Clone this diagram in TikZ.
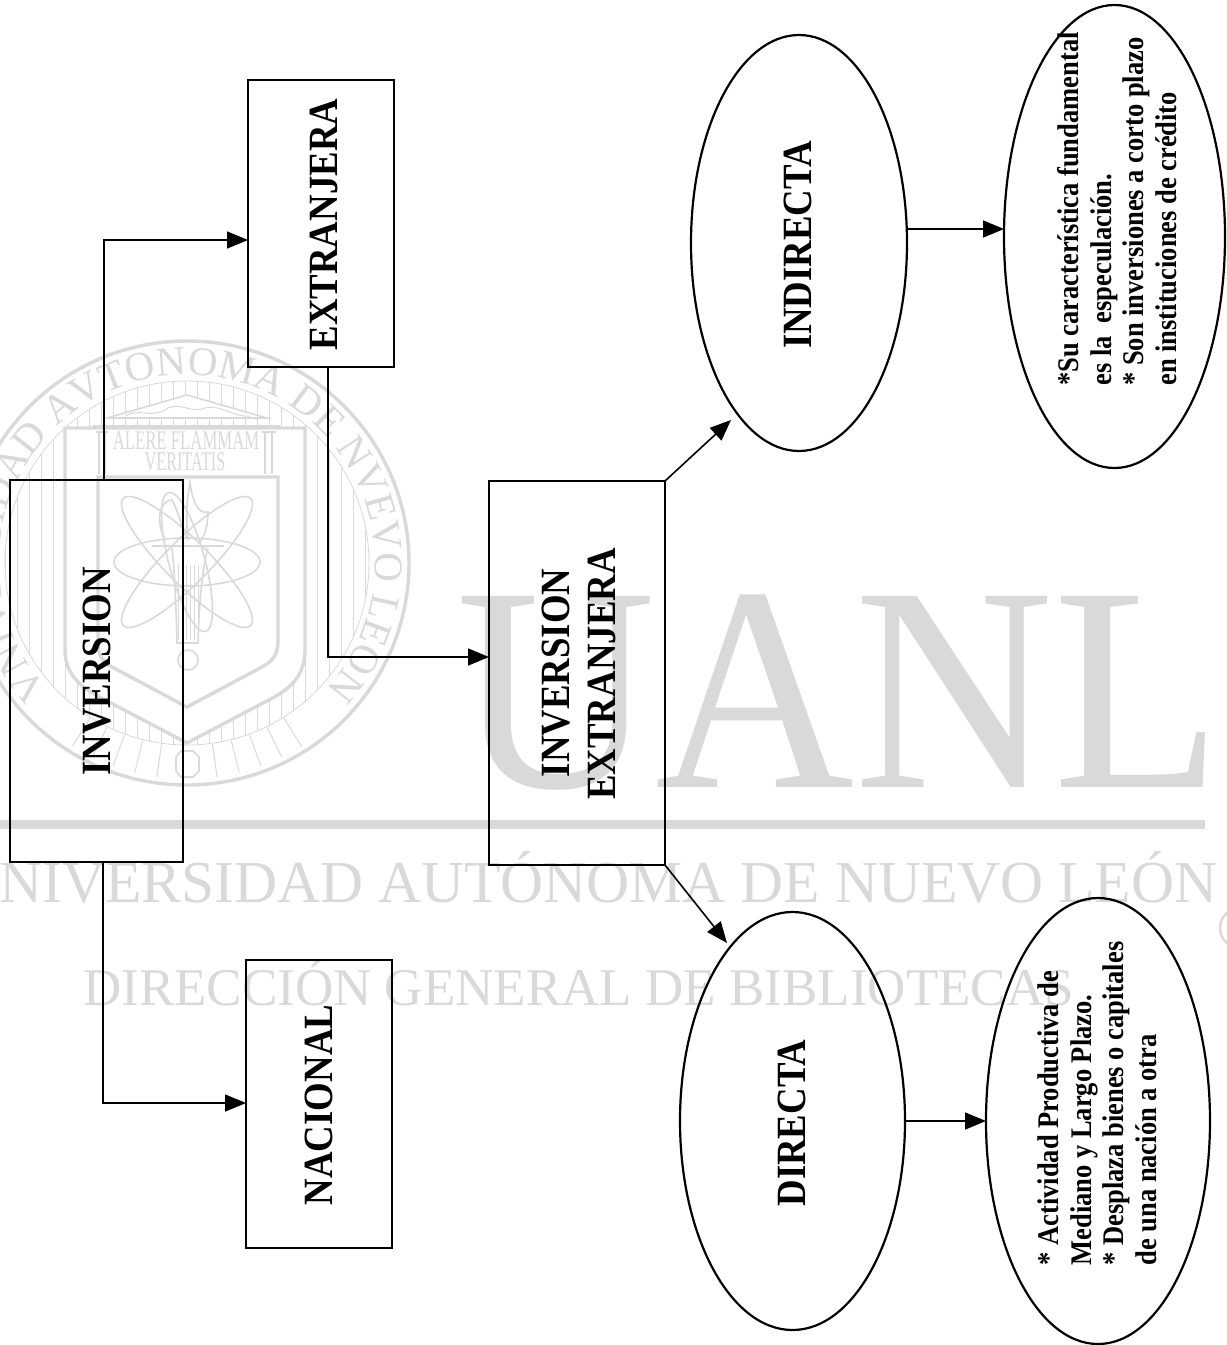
\documentclass[tikz,border=0pt]{standalone}
\usepackage{fontspec}
\usepackage{graphicx}
\setmainfont{Liberation Serif}
\usetikzlibrary{arrows.meta,shapes.geometric,decorations.text}
\definecolor{sello}{HTML}{D9D9D9}
\newcommand{\alto}[1]{\scalebox{1}[1.13]{#1}}
\tikzset{
  caja/.style={draw,line width=2pt,outer sep=0pt,inner sep=0pt},
  ovalo/.style={draw,ellipse,line width=2.2pt,outer sep=0pt,inner sep=0pt},
  etiqueta/.style={inner sep=0pt,rotate=90,font=\bfseries\fontsize{36.8}{44}\selectfont},
  nota/.style={inner sep=0pt,rotate=90,font=\bfseries\fontsize{26.5}{28.8}\selectfont},
  flecha/.style={line width=1.6pt,-{Triangle[length=21pt,width=17pt]}},
  marca/.style={inner sep=0pt,text=sello},
  trazo/.style={draw=sello,line width=1.6pt}
}
\begin{document}
\begin{tikzpicture}[x=1pt,y=1pt,yscale=-1,xscale=1]
\useasboundingbox (0,0) rectangle (1227,1345);

%Seal hatching
\foreach \xx in {5,17,...,370} {
  \draw[draw=sello,line width=0.8pt] (\xx,370) -- (\xx,750);
}
\fill[white,even odd rule] (187,563) circle [radius=182] (-60,300) rectangle (440,800);
\foreach \aa in {238,244,...,262,278,284,...,302} {
  \draw[draw=sello,line width=1pt] (187,563) ++(-\aa:183) -- ++(-\aa:33);
}
%Seal rings
\draw[draw=sello,line width=3.4pt] (187,563) circle [radius=222];
\draw[draw=sello,line width=0.8pt] (187,563) circle [radius=182];
\begin{scope}[shift={(187,563)},yscale=-1]
\path[decorate,decoration={text along path,text align=center,
  text={|\fontsize{41}{41}\selectfont\color{sello}|VNIVERSIDAD AVTONOMA DE NVEVO LEON}}]
  (235:188) arc [start angle=235,end angle=-55,radius=188];
\end{scope}
%Seal shield
\filldraw[trazo,line width=3.4pt,fill=white] (65,428) -- (305,428) -- (305,650) .. controls (305,680) and (285,692) .. (263,703) -- (187,743) -- (111,703) .. controls (89,692) and (65,680) .. (65,650) -- cycle;
\draw[trazo,line width=3.4pt] (98,477) -- (278,477) -- (278,640) .. controls (278,652) and (275,660) .. (262,667) -- (187,707) -- (112,667) .. controls (99,660) and (98,652) .. (98,640) -- cycle;
%Seal front
\filldraw[trazo,fill=white] (107,418) -- (187,395) -- (267,418) -- cycle;
\draw[trazo,line width=3pt] (93,426) -- (280,426);
\draw[trazo,line width=1pt] (125,416) .. controls (140,408) and (150,418) .. (165,410) .. controls (178,400) and (190,414) .. (205,408) .. controls (220,404) and (235,418) .. (250,416);
\draw[trazo] (96,432) -- (108,432) (99,432) -- (99,474) (105,432) -- (105,474);
\draw[trazo] (262,432) -- (276,432) (265,432) -- (265,474) (272,432) -- (272,474);
% Text Node
\node[marca] (lema) at (186,441) {\scalebox{0.62}[1]{\fontsize{27}{27}\selectfont ALERE FLAMMAM}};
% Text Node
\node[marca] (lemados) at (185,462) {\scalebox{0.6}[1]{\fontsize{27}{27}\selectfont VERITATIS}};
%Seal atom
\draw[trazo] (187,562) ellipse [x radius=73,y radius=24];
\draw[trazo,rotate around={45:(187,562)}] (187,562) ellipse [x radius=90,y radius=22];
\draw[trazo,rotate around={-45:(187,562)}] (187,562) ellipse [x radius=90,y radius=22];
\draw[trazo,rotate around={75:(187,562)}] (187,562) ellipse [x radius=72,y radius=18];
%Seal torch
\draw[trazo] (152,546) -- (224,546);
\draw[trazo] (172,548) .. controls (174,565) and (176,600) .. (177,643) -- (198,643) .. controls (199,600) and (203,565) .. (208,548);
\foreach \xx in {178,182,...,198} {
  \draw[draw=sello,line width=0.8pt] (\xx,565) -- (\xx,640);
}
\draw[trazo] (165,540) .. controls (155,520) and (160,500) .. (172,500) .. controls (178,510) and (182,530) .. (188,540);
\draw[trazo] (188,540) .. controls (185,510) and (188,495) .. (190,482) .. controls (192,500) and (198,515) .. (208,512) .. controls (208,525) and (205,535) .. (200,542);
\draw[trazo] (188,660) circle [radius=10];
\draw[trazo] (176,757) -- (181,751) -- (193,751) -- (199,757) -- (199,771) -- (193,777) -- (181,777) -- (176,771) -- cycle;

%Big letters
% Text Node
\node[marca,anchor=base west] (siglas) at (456,787) {\scalebox{0.945}[1]{\fontsize{292}{292}\selectfont UANL}};
%Straight Lines
\fill[sello] (0,820) rectangle (1205,829);
% Text Node
\node[marca,anchor=base west] (universidad) at (-44,902) {\fontsize{59.6}{60}\selectfont UNIVERSIDAD AUTÓNOMA DE NUEVO LEÓN};
% Text Node
\node[marca,anchor=base west] (direccion) at (83,1005) {\fontsize{53}{53}\selectfont DIRECCIÓN GENERAL DE BIBLIOTECAS};
\draw[trazo,line width=2.4pt] (1240,928) circle [radius=20];

%Boxes
\node[caja,minimum width=173,minimum height=382] (inversion) at (96.5,671) {};
\node[caja,minimum width=146,minimum height=287] (extranjera) at (321,223.5) {};
\node[caja,minimum width=146,minimum height=288] (nacional) at (319,1104) {};
\node[caja,minimum width=176,minimum height=384] (invext) at (577,673) {};
%Ellipses
\node[ovalo,minimum width=216,minimum height=416] (indirecta) at (799,243) {};
\node[ovalo,minimum width=225,minimum height=418] (directa) at (792.5,1121) {};
\node[ovalo,minimum width=221,minimum height=463] (rasgoind) at (1114.5,236.5) {};
\node[ovalo,minimum width=224,minimum height=446] (rasgodir) at (1098,1121) {};

% Text Node
\node[etiqueta] (txtinversion) at (97,671.5) {\alto{INVERSION}};
% Text Node
\node[etiqueta] (txtextranjera) at (324,224.5) {\alto{EXTRANJERA}};
% Text Node
\node[etiqueta] (txtnacional) at (319,1105) {\alto{NACIONAL}};
% Text Node
\node[etiqueta] (txtinv) at (556,673) {\alto{INVERSION}};
% Text Node
\node[etiqueta] (txtext) at (601.5,674) {\alto{EXTRANJERA}};
% Text Node
\node[etiqueta] (txtindirecta) at (798,245) {\alto{INDIRECTA}};
% Text Node
\node[etiqueta] (txtdirecta) at (792,1123) {\alto{DIRECTA}};
% Text Node
\node[nota] (notaind) at (1121,209) {\alto{\begin{tabular}{@{}l@{}}*Su característica fundamental\\es la\ \ especulación.\\{}* Son inversiones a corto plazo\\en instituciones de crédito\end{tabular}}};
% Text Node
\node[nota] (notadir) at (1101,1103.5) {\alto{\begin{tabular}{@{}l@{}}* Actividad Productiva de\\Mediano y Largo Plazo.\\{}* Desplaza bienes o capitales\\de una nación a otra\end{tabular}}};

%Connectors
\coordinate (codoext) at (104,240);
\coordinate (codonac) at (103,1103);
\coordinate (codoinv) at (328,657);
\coordinate (nivelind) at (950,229);
\coordinate (puntaind) at (731,420);
\coordinate (puntadir) at (727,943);
\draw[flecha] (inversion.north -| codoext) -- (codoext) -- (extranjera.west |- codoext);
\draw[flecha] (inversion.south -| codonac) -- (codonac) -- (nacional.west |- codonac);
\draw[flecha] (extranjera.south -| codoinv) -- (codoinv) -- (invext.west |- codoinv);
\draw[flecha] (invext.north east) -- (puntaind);
\draw[flecha] (invext.south east) -- (puntadir);
\draw[flecha] (indirecta.east |- nivelind) -- (rasgoind.west |- nivelind);
\draw[flecha] (directa.east) -- (rasgodir.west);

\end{tikzpicture}
\end{document}
